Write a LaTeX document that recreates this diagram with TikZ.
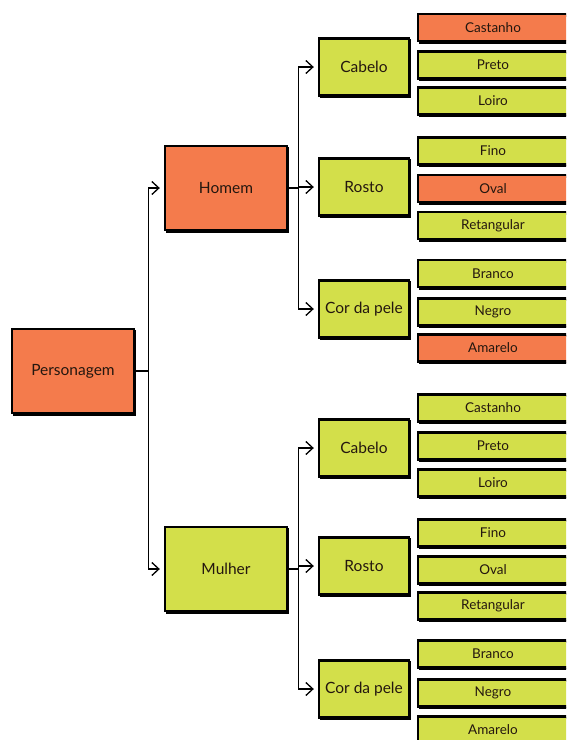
\documentclass[tikz,border=0pt]{standalone}
\usepackage{fontspec}
\setmainfont{Lato}
\usetikzlibrary{arrows.meta}
\definecolor{orng}{HTML}{F47B4C}
\definecolor{lime}{HTML}{D3DF4A}
\definecolor{ink}{HTML}{24170F}
\begin{document}
\begin{tikzpicture}[x=1pt,y=-1pt,
  sketch/.style={draw=black, line width=2.4pt,
    preaction={draw=black, line width=1.6pt, transform canvas={shift={(1.3pt,-1.7pt)}}},
    text=ink, inner sep=0pt, align=center},
  bigbox/.style={sketch, minimum width=122pt, minimum height=84pt, font=\fontsize{15.5}{18}\selectfont},
  midbox/.style={sketch, minimum width=90pt, minimum height=57pt, font=\fontsize{15.5}{18}\selectfont},
  leaf/.style={sketch, minimum width=150pt, minimum height=27pt, font=\fontsize{13.5}{15}\selectfont},
  link/.style={draw=black, line width=1.4pt,
    -{Straight Barb[length=7pt,width=13pt,line width=1.3pt]}, shorten >=4pt},
]
\useasboundingbox (0,0) rectangle (566,740);
\clip (0,0) rectangle (566,740);

% root and first level
\node[bigbox, fill=orng] (p) at (73,371) {Personagem};
\node[bigbox, fill=orng] (h) at (226,188) {Homem};
\node[bigbox, fill=lime] (m) at (226,569) {Mulher};

% second level: Homem
\node[midbox, fill=lime] (hc) at (364,67)  {Cabelo};
\node[midbox, fill=lime] (hr) at (364,187) {Rosto};
\node[midbox, fill=lime] (hp) at (364,309) {Cor da pele};

% second level: Mulher
\node[midbox, fill=lime] (mc) at (364,448) {Cabelo};
\node[midbox, fill=lime] (mr) at (364,566) {Rosto};
\node[midbox, fill=lime] (mp) at (364,689) {Cor da pele};

% options: Homem
\node[leaf, fill=orng] (hc1) at (493,27.5)  {Castanho};
\node[leaf, fill=lime] (hc2) at (493,65)    {Preto};
\node[leaf, fill=lime] (hc3) at (493,101)   {Loiro};
\node[leaf, fill=lime] (hr1) at (493,151)   {Fino};
\node[leaf, fill=orng] (hr2) at (493,188.5) {Oval};
\node[leaf, fill=lime] (hr3) at (493,225.5) {Retangular};
\node[leaf, fill=lime] (hp1) at (493,273.5) {Branco};
\node[leaf, fill=lime] (hp2) at (493,312)   {Negro};
\node[leaf, fill=orng] (hp3) at (493,348)   {Amarelo};

% options: Mulher
\node[leaf, fill=lime] (mc1) at (493,408) {Castanho};
\node[leaf, fill=lime] (mc2) at (493,446) {Preto};
\node[leaf, fill=lime] (mc3) at (493,483) {Loiro};
\node[leaf, fill=lime] (mr1) at (493,533) {Fino};
\node[leaf, fill=lime] (mr2) at (493,570) {Oval};
\node[leaf, fill=lime] (mr3) at (493,606) {Retangular};
\node[leaf, fill=lime] (mp1) at (493,654) {Branco};
\node[leaf, fill=lime] (mp2) at (493,693) {Negro};
\node[leaf, fill=lime] (mp3) at (493,730) {Amarelo};

% connectors
\draw[link] (p.east) -- ++(13,0) |- (h.west);
\draw[link] (p.east) -- ++(13,0) |- (m.west);
\foreach \t in {hc,hr,hp} \draw[link] (h.east) -- ++(10,0) |- (\t.west);
\foreach \t in {mc,mr,mp} \draw[link] (m.east) -- ++(10,0) |- (\t.west);
\end{tikzpicture}
\end{document}
